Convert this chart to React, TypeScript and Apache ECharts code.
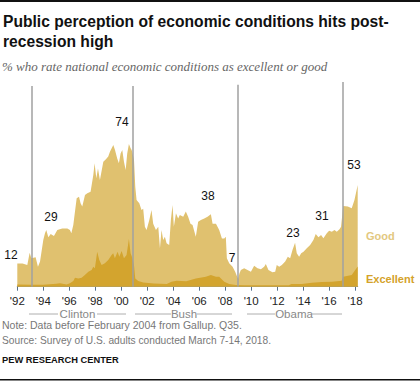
import React, { useEffect, useRef } from "react";
import * as echarts from "echarts";

// Share rating "excellent" or "good" (total), %
const totalYears = [
  1992.0, 1992.4, 1992.77, 1992.95, 1993.08, 1993.41, 1993.59, 1993.75, 1994.0, 1994.13,
  1994.23, 1994.39, 1994.57, 1994.82, 1995.08, 1995.46, 1995.85, 1996.05, 1996.16, 1996.31,
  1996.44, 1996.57, 1996.75, 1996.87, 1997.0, 1997.21, 1997.39, 1997.64, 1997.85, 1997.95,
  1998.08, 1998.21, 1998.36, 1998.62, 1998.82, 1999.0, 1999.13, 1999.39, 1999.52, 1999.69,
  1999.82, 1999.95, 2000.08, 2000.21, 2000.34, 2000.46, 2000.59, 2000.72, 2000.8, 2000.98,
  2001.08, 2001.18, 2001.39, 2001.56, 2001.69, 2001.82, 2001.95, 2002.16, 2002.33, 2002.46,
  2002.67, 2002.85, 2002.98, 2003.1, 2003.23, 2003.36, 2003.49, 2003.69, 2003.82, 2003.95,
  2004.05, 2004.21, 2004.38, 2004.51, 2004.77, 2004.97, 2005.15, 2005.33, 2005.49, 2005.74,
  2005.92, 2006.13, 2006.39, 2006.64, 2006.9, 2007.03, 2007.29, 2007.54, 2007.75, 2007.93,
  2008.05, 2008.13, 2008.31, 2008.57, 2008.77, 2008.9, 2009.0, 2009.1, 2009.21, 2009.46,
  2009.72, 2009.98, 2010.23, 2010.49, 2010.75, 2011.0, 2011.13, 2011.33, 2011.64, 2011.85,
  2011.97, 2012.16, 2012.36, 2012.62, 2012.82, 2013.0, 2013.18, 2013.38, 2013.51, 2013.69,
  2013.85, 2014.03, 2014.28, 2014.54, 2014.79, 2014.97, 2015.18, 2015.38, 2015.56, 2015.82,
  2016.0, 2016.21, 2016.41, 2016.59, 2016.8, 2016.92, 2017.08, 2017.44, 2017.74, 2017.95,
  2018.2,
];
const totalValues = [
  12, 12, 11.2, 17.6, 14.7, 15.2, 10.4, 13, 24.2, 27.7,
  29.4, 25.6, 27.3, 26.3, 29.4, 30.2, 30.2, 29.4, 27.7, 32,
  38.9, 45.8, 46.6, 43.2, 41.5, 47.5, 48.4, 49.2, 57.9, 63.9,
  56.2, 61.3, 55.3, 64.8, 66, 67.4, 69.9, 73.4, 70.8, 66.4,
  63.9, 69, 70.8, 64.8, 60.5, 69, 74, 71.7, 70.8, 66,
  51.8, 44.9, 43.2, 39.7, 40.4, 31.1, 29.4, 34.6, 39.7, 32.6,
  29.4, 31.1, 19.9, 29.4, 24.2, 25.9, 22.5, 21.6, 34.6, 42.3,
  31.1, 38, 35.4, 37.1, 36.3, 38.9, 36.3, 32.6, 32, 25.9,
  33.7, 34.6, 35.4, 36.3, 37.5, 32.6, 32.6, 29.4, 25, 25,
  25.9, 14.7, 12.1, 10.4, 7.8, 5.5, 4, 7, 8.7, 9.5,
  8.7, 7.8, 10.8, 9.5, 9, 10.4, 11.7, 8.7, 7.5, 7.8,
  11.2, 10.4, 11.2, 13, 15.5, 14.7, 19, 22.8, 17.3, 15.5,
  17.3, 18.1, 19.9, 21.6, 24.2, 27.3, 25.6, 26.8, 25.1, 27.7,
  29, 28.5, 29.4, 28.5, 29.8, 31.1, 41.8, 41.5, 40.6, 44.9,
  52.7,
];

// Share rating "excellent", %
const excellentYears = [
  1992.0, 1993.0, 1994.0, 1995.0, 1995.28, 1995.8, 1996.05, 1996.31, 1996.44, 1996.7,
  1996.95, 1997.2, 1997.47, 1997.72, 1997.85, 1997.97, 1998.15, 1998.31, 1998.49, 1998.74,
  1999.0, 1999.26, 1999.38, 1999.51, 1999.72, 1999.85, 2000.03, 2000.21, 2000.41, 2000.59,
  2000.72, 2000.85, 2000.98, 2001.08, 2001.31, 2001.69, 2002.5, 2003.5, 2003.87, 2004.26,
  2005.0, 2005.74, 2006.51, 2006.9, 2007.29, 2007.54, 2007.93, 2008.31, 2008.82, 2009.5,
  2012.9, 2013.1, 2013.9, 2014.67, 2015.44, 2016.21, 2016.97, 2017.08, 2017.74, 2018.2,
];
const excellentValues = [
  1.2, 1, 1, 1.5, 1.8, 1.2, 1.8, 3, 4.7, 4.3,
  4.7, 6, 7.8, 8.7, 10.4, 9.5, 18.1, 13.8, 11.2, 12.1,
  13.8, 16.4, 17.3, 14.7, 18.1, 15.5, 18.5, 14.7, 16.4, 24.7,
  17.3, 15, 11.2, 4.3, 3, 2.2, 1.7, 1.4, 2.6, 3.1,
  2.8, 4.3, 5.2, 6, 5.2, 5.2, 2.6, 1.4, 0.9, 0.7,
  0.7, 1.4, 1.4, 2, 2.4, 2.6, 3.1, 5.2, 6, 10.5,
];

// Presidential inaugurations (vertical rules) and their heights
const inaugurationYears = [1993.11, 2000.88, 2008.95, 2017.03];
const inaugurationTops = [104, 104, 104.7, 106];

const tickYears = [1992, 1994, 1996, 1998, 2000, 2002, 2004, 2006, 2008, 2010, 2012, 2014, 2016, 2018];

// Value call-outs: text and position
const calloutTexts = ["12", "29", "74", "38", "7", "23", "31", "53"];
const calloutX = [11, 51, 122, 208, 232, 293, 322, 354];
const calloutY = [255, 217, 122, 196, 258, 233, 216, 165];

const presidents = ["Clinton", "Bush", "Obama"];
const presidentTextX = [77.5, 184, 294];
const presidentLineL = [[29, 58], [135, 171], [247, 275]];
const presidentLineR = [[97, 126], [197, 232], [312, 342]];

const GOOD = "#E0C16F";
const EXCELLENT = "#D3A42E";

export default function App() {
  const ref = useRef<HTMLDivElement>(null);

  useEffect(() => {
    if (!ref.current) return;
    const chart = echarts.init(ref.current, undefined, { renderer: "svg" });

    const sans = "Liberation Sans, Arial, sans-serif";
    const graphic: any[] = [
      { type: "rect", shape: { x: 0, y: 0, width: 420, height: 2 }, style: { fill: "#111" } },
      { type: "rect", shape: { x: 0, y: 379, width: 420, height: 1.5 }, style: { fill: "#111" } },
      {
        type: "text", x: 3, y: 21, scaleX: 0.92,
        style: { text: "Public perception of economic conditions hits post-", font: `bold 17px ${sans}`, fill: "#111", verticalAlign: "middle" },
      },
      {
        type: "text", x: 3, y: 41, scaleX: 0.92,
        style: { text: "recession high", font: `bold 17px ${sans}`, fill: "#111", verticalAlign: "middle" },
      },
      {
        type: "text", x: 2, y: 66,
        style: { text: "% who rate national economic conditions as excellent or good", font: `italic 13px "Liberation Serif", serif`, fill: "#666", verticalAlign: "middle" },
      },
      {
        type: "text", x: 366, y: 236,
        style: { text: "Good", font: `bold 11px ${sans}`, fill: "#E3C87F", verticalAlign: "middle" },
      },
      {
        type: "text", x: 366, y: 279,
        style: { text: "Excellent", font: `bold 11px ${sans}`, fill: "#D4A22A", verticalAlign: "middle" },
      },
      {
        type: "text", x: 2, y: 325,
        style: { text: "Note: Data before February 2004 from Gallup. Q35.", font: `10.5px ${sans}`, fill: "#777", verticalAlign: "middle" },
      },
      {
        type: "text", x: 2, y: 340,
        style: { text: "Source: Survey of U.S. adults conducted March 7-14, 2018.", font: `10.2px ${sans}`, fill: "#777", verticalAlign: "middle" },
      },
      {
        type: "text", x: 2, y: 360,
        style: { text: "PEW RESEARCH CENTER", font: `bold 9.3px ${sans}`, fill: "#111", verticalAlign: "middle" },
      },
    ];

    calloutTexts.forEach((t, i) => {
      graphic.push({
        type: "text", x: calloutX[i], y: calloutY[i],
        style: { text: t, font: `12px ${sans}`, fill: "#111", align: "center", verticalAlign: "middle" },
      });
    });

    presidents.forEach((p, i) => {
      graphic.push({
        type: "text", x: presidentTextX[i], y: 313.5,
        style: { text: p, font: `11.5px ${sans}`, fill: "#888", align: "center", verticalAlign: "middle" },
      });
      graphic.push({
        type: "line", shape: { x1: presidentLineL[i][0], y1: 314, x2: presidentLineL[i][1], y2: 314 },
        style: { stroke: "#999", lineWidth: 0.8 },
      });
      graphic.push({
        type: "line", shape: { x1: presidentLineR[i][0], y1: 314, x2: presidentLineR[i][1], y2: 314 },
        style: { stroke: "#999", lineWidth: 0.8 },
      });
    });

    const totalData = totalYears.map((x, i) => [x, totalValues[i]]);
    const excellentData = excellentYears.map((x, i) => [x, excellentValues[i]]);

    chart.setOption({
      animation: false,
      grid: { left: 17.3, right: 62.3, top: 74.4, bottom: 95.3 },
      xAxis: {
        type: "value",
        min: 1992,
        max: 2018.2,
        splitLine: { show: false },
        axisLine: { show: true, lineStyle: { color: "#56708C", width: 1 } },
        axisTick: { show: true, length: 4, customValues: tickYears, lineStyle: { color: "#56708C" } },
        axisLabel: {
          customValues: tickYears,
          formatter: (v: number) => "'" + String(Math.round(v)).slice(2),
          color: "#222",
          fontSize: 11.5,
          fontFamily: "Liberation Sans, Arial, sans-serif",
          margin: 8,
        },
      },
      yAxis: { type: "value", min: 0, max: 110, show: false, splitLine: { show: false } },
      series: [
        {
          type: "line",
          data: totalData,
          showSymbol: false,
          symbol: "none",
          lineStyle: { width: 0 },
          areaStyle: { color: GOOD, opacity: 1 },
          z: 2,
        },
        {
          type: "line",
          data: excellentData,
          showSymbol: false,
          symbol: "none",
          lineStyle: { width: 0 },
          areaStyle: { color: EXCELLENT, opacity: 1 },
          z: 3,
        },
        {
          type: "line",
          data: [],
          z: 5,
          markLine: {
            silent: true,
            symbol: ["none", "none"],
            label: { show: false },
            lineStyle: { color: "#A0A0A0", width: 1.5, type: "solid" },
            data: inaugurationYears.map((x, i) => [{ coord: [x, 0] }, { coord: [x, inaugurationTops[i]] }]),
          },
        },
      ],
      graphic,
    });

    return () => chart.dispose();
  }, []);

  return <div ref={ref} style={{ position: "absolute", left: 0, top: 0, width: 420, height: 382 }} />;
}
